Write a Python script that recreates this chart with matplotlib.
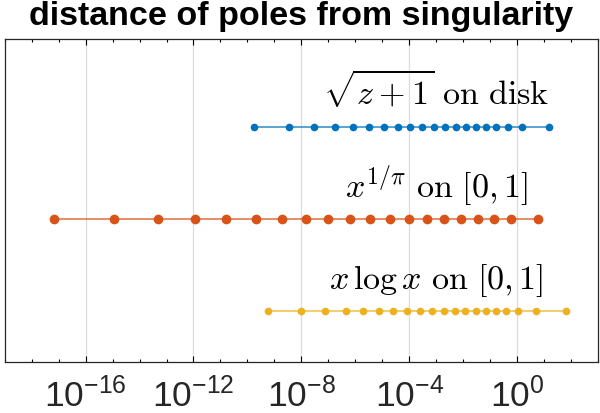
import numpy as np
import matplotlib
matplotlib.use("Agg")
import matplotlib.pyplot as plt
from matplotlib.ticker import FixedLocator, LogLocator, NullFormatter

plt.rcParams['font.family'] = ['Liberation Sans', 'DejaVu Sans']
plt.rcParams['axes.unicode_minus'] = False

# pole distances
sqrt_disk = [1.8e-10, 3.5e-9, 3.0e-8, 1.7e-7, 8.3e-7, 3.2e-6, 1.15e-5, 3.7e-5,
             1.07e-4, 3.0e-4, 8.3e-4, 2.1e-3, 5.4e-3, 1.29e-2, 2.95e-2, 6.9e-2,
             0.166, 0.45, 1.5, 15.5]
xpow = [6.8e-18, 1.17e-15, 5.0e-14, 1.1e-12, 1.66e-11, 2.0e-10, 1.86e-9, 1.45e-8,
        1.0e-7, 6.5e-7, 3.5e-6, 1.86e-5, 9.5e-5, 4.5e-4, 2.0e-3, 8.5e-3,
        3.5e-2, 0.14, 0.6, 6.0]
xlogx = [6.0e-10, 9.3e-9, 7.6e-8, 4.4e-7, 2.0e-6, 7.4e-6, 2.6e-5, 8.5e-5,
         2.5e-4, 7.2e-4, 1.9e-3, 5.0e-3, 1.2e-2, 2.9e-2, 6.9e-2, 0.158,
         0.38, 1.07, 4.8, 63.0]

rows = [3, 2, 1]
series = [sqrt_disk, xpow, xlogx]
labels = [r'$\sqrt{z+1}\ \mathrm{on\ disk}$',
          r'$x^{1/\pi}\ \mathrm{on}\ [0,1]$',
          r'$x\,\log x\ \mathrm{on}\ [0,1]$']
colors = ['#0072BD', '#D95319', '#EDB120']
msizes = [5.5, 7, 5.5]
major = [1e-16, 1e-12, 1e-8, 1e-4, 1e0]

fig = plt.figure(figsize=(6, 4.14), dpi=100)
ax = fig.add_axes([0.0078, 0.1225, 0.989, 0.781])

for y, vals, lab, c, ms in zip(rows, series, labels, colors, msizes):
    ax.plot(vals, [y] * len(vals), '-', color=c, lw=1.3, alpha=0.7)
    ax.plot(vals, [y] * len(vals), 'o', color=c, ms=ms, mec='none')
    ax.text(1e-3, y + 0.25, lab, ha='center', va='baseline', fontsize=24.5,
            math_fontfamily='cm', color='black')

ax.set_xscale('log')
ax.set_xlim(1e-19, 1e3)
ax.set_ylim(0.45, 3.95)
ax.xaxis.set_major_locator(FixedLocator(major))
ax.xaxis.set_minor_locator(LogLocator(base=10, subs=(1.0,), numticks=40))
ax.xaxis.set_minor_formatter(NullFormatter())
ax.set_yticks([])
ax.grid(True, axis='x', which='major', color='#dcdcdc', lw=0.9)
ax.set_axisbelow(True)
ax.tick_params(axis='x', which='major', direction='in', length=4.5, width=0.8,
               top=True, labelsize=25.5, labelcolor='#262626', pad=10)
ax.tick_params(axis='x', which='minor', direction='in', length=2.5, width=0.8,
               top=True)
for s in ax.spines.values():
    s.set_color('#262626')
    s.set_linewidth(0.9)

ax.set_title('distance of poles from singularity', fontsize=24.5,
             fontweight='bold', pad=11)

fig.savefig('out.png', dpi=100)
